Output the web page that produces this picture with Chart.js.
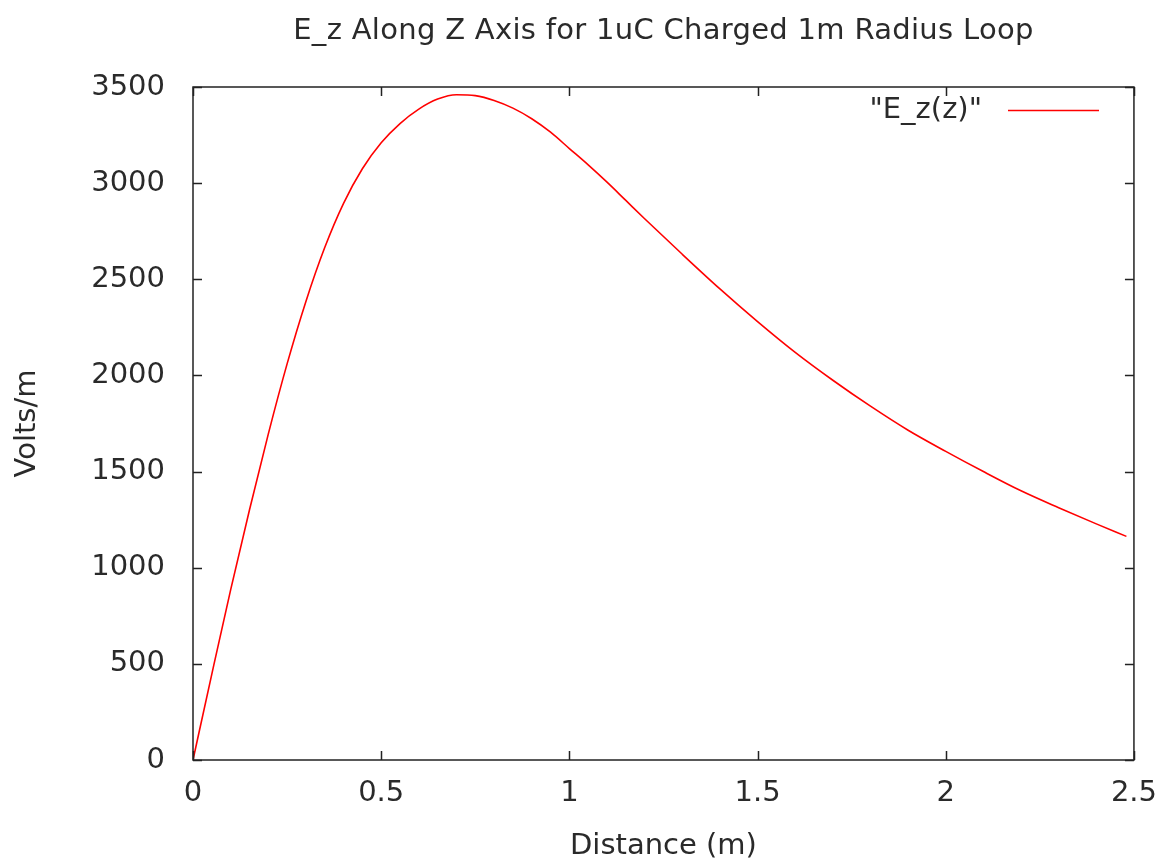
<!DOCTYPE html>
<html>
<head>
<meta charset="utf-8">
<title>E_z Along Z Axis</title>
<script src="https://cdn.jsdelivr.net/npm/chart.js@4/dist/chart.umd.min.js"></script>
<style>
    html, body { margin: 0; padding: 0; background: #fff; }
    #wrap { width: 1173px; height: 867px; }
</style>
</head>
<body>
<div id="wrap"><canvas id="ezChart"></canvas></div>
<script>
// values (distance in m, field in V/m)
const distance = [0, 0.05, 0.1, 0.15, 0.2, 0.25, 0.3, 0.35, 0.4, 0.45, 0.5, 0.55, 0.6, 0.65, 0.7,
    0.75, 0.8, 0.85, 0.9, 0.95, 1.0, 1.05, 1.1, 1.15, 1.2, 1.3, 1.4, 1.5, 1.6, 1.7, 1.8, 1.9,
    2.0, 2.1, 2.2, 2.3, 2.4, 2.48];
const ezValues = [0, 447, 885, 1300, 1695, 2060, 2385, 2665, 2895, 3075, 3210, 3310, 3385, 3437, 3460,
    3455, 3430, 3390, 3335, 3265, 3180, 3095, 3005, 2910, 2815, 2630, 2450, 2280, 2120, 1975, 1840, 1715,
    1605, 1500, 1400, 1312, 1228, 1163];
const xTicks = [0, 0.5, 1, 1.5, 2, 2.5];
const yTicks = [0, 500, 1000, 1500, 2000, 2500, 3000, 3500];

const titleText = 'E_z Along Z Axis for 1uC Charged 1m Radius Loop';
const textColor = '#2a2a2a';
const fontFamily = '"DejaVu Sans", sans-serif';
const fontSize = 29;

// gnuplot look: frame, inward ticks on all sides, title over plot area, legend inside
const gnuplotFrame = {
    id: 'gnuplotFrame',
    afterDatasetsDraw(chart) {
        const ctx = chart.ctx;
        const a = chart.chartArea;
        const xs = chart.scales.x, ys = chart.scales.y;
        const tick = 9;
        ctx.save();
        ctx.strokeStyle = '#222';
        ctx.lineWidth = 1.5;
        ctx.strokeRect(a.left, a.top, a.right - a.left, a.bottom - a.top);
        ctx.beginPath();
        xTicks.forEach(v => {
            const px = Math.round(xs.getPixelForValue(v)) + 0.5;
            ctx.moveTo(px, a.bottom); ctx.lineTo(px, a.bottom - tick);
            ctx.moveTo(px, a.top); ctx.lineTo(px, a.top + tick);
        });
        yTicks.forEach(v => {
            const py = Math.round(ys.getPixelForValue(v)) + 0.5;
            ctx.moveTo(a.left, py); ctx.lineTo(a.left + tick, py);
            ctx.moveTo(a.right, py); ctx.lineTo(a.right - tick, py);
        });
        ctx.stroke();

        // title
        ctx.fillStyle = textColor;
        ctx.font = fontSize + 'px ' + fontFamily;
        ctx.textAlign = 'center';
        ctx.textBaseline = 'middle';
        ctx.letterSpacing = '0.3px';
        ctx.fillText(titleText, (a.left + a.right) / 2, 31);
        ctx.letterSpacing = '0px';

        // legend
        const ds = chart.data.datasets[0];
        ctx.textAlign = 'right';
        ctx.fillText(ds.label, 982, 110);
        ctx.strokeStyle = ds.borderColor;
        ctx.lineWidth = 1.5;
        ctx.beginPath();
        ctx.moveTo(1008, 110.5);
        ctx.lineTo(1099, 110.5);
        ctx.stroke();
        ctx.restore();
    }
};

new Chart(document.getElementById('ezChart').getContext('2d'), {
    type: 'line',
    data: {
        datasets: [{
            label: '"E_z(z)"',
            data: distance.map((d, i) => ({ x: d, y: ezValues[i] })),
            borderColor: '#ff0000',
            borderWidth: 1.6,
            pointRadius: 0,
            cubicInterpolationMode: 'monotone',
            fill: false
        }]
    },
    options: {
        responsive: true,
        maintainAspectRatio: false,
        animation: false,
        layout: { padding: { top: 87, right: 36, left: 0, bottom: 0 } },
        plugins: {
            legend: { display: false },
            title: { display: false },
            tooltip: { enabled: false }
        },
        scales: {
            x: {
                type: 'linear',
                min: 0,
                max: 2.5,
                afterBuildTicks: s => { s.ticks = xTicks.map(v => ({ value: v })); },
                afterFit: s => { s.height = 107; },
                grid: { display: false, drawTicks: false },
                border: { display: false },
                ticks: {
                    color: textColor,
                    font: { family: fontFamily, size: fontSize },
                    padding: 16,
                    maxRotation: 0,
                    callback: v => String(v)
                },
                title: {
                    display: true,
                    text: 'Distance (m)',
                    color: textColor,
                    font: { family: fontFamily, size: fontSize },
                    padding: { top: 4, bottom: 3 }
                }
            },
            y: {
                type: 'linear',
                min: 0,
                max: 3500,
                afterBuildTicks: s => { s.ticks = yTicks.map(v => ({ value: v })); },
                afterFit: s => { s.width = 193; },
                grid: { display: false, drawTicks: false },
                border: { display: false },
                ticks: {
                    color: textColor,
                    font: { family: fontFamily, size: fontSize },
                    padding: 28,
                    callback: v => String(v)
                },
                title: {
                    display: true,
                    text: 'Volts/m',
                    color: textColor,
                    font: { family: fontFamily, size: fontSize },
                    padding: { top: 10, bottom: 0 }
                }
            }
        }
    },
    plugins: [gnuplotFrame]
});
</script>
</body>
</html>
